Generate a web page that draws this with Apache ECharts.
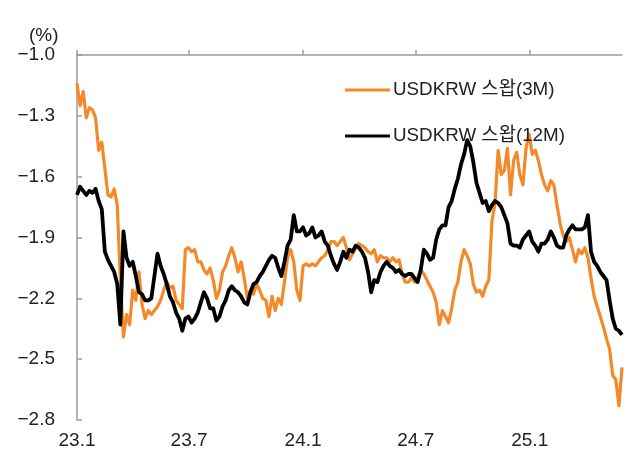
<!DOCTYPE html>
<html>
<head>
<meta charset="utf-8">
<script src="https://cdn.jsdelivr.net/npm/echarts@6/dist/echarts.min.js"></script>
<style>html,body{margin:0;padding:0;background:#fff;}#c{width:638px;height:455px;}</style>
</head>
<body>
<div id="c"></div>
<script>
// Sampling: one point every 5 calendar days starting 2023-01-01 (day 0)
const START_DATE = '2023-01-01';
const STEP_DAYS = 5;
const seriesNames = ['USDKRW 스왑(3M)', 'USDKRW 스왑(12M)'];
const swap3M = [
-1.14,-1.25,-1.18,-1.31,-1.26,-1.27,-1.31,-1.47,-1.43,-1.56,
-1.69,-1.70,-1.66,-1.74,-2.11,-2.39,-2.28,-2.33,-2.16,-2.21,
-2.07,-2.23,-2.30,-2.26,-2.28,-2.26,-2.24,-2.21,-2.16,-2.12,
-2.15,-2.14,-2.21,-2.23,-2.25,-1.96,-1.95,-1.97,-1.96,-2.02,
-2.02,-2.06,-2.08,-2.05,-2.11,-2.20,-2.16,-2.07,-2.04,-1.99,
-1.95,-2.00,-2.07,-2.02,-2.10,-2.20,-2.16,-2.18,-2.13,-2.16,
-2.20,-2.21,-2.29,-2.19,-2.26,-2.20,-2.23,-2.12,-2.00,-1.96,
-2.02,-2.16,-2.21,-2.04,-2.03,-2.04,-2.03,-2.04,-2.02,-2.00,
-1.99,-1.96,-1.92,-1.92,-1.94,-1.92,-1.90,-1.95,-2.01,-1.98,
-1.95,-1.93,-1.94,-1.95,-1.97,-1.98,-1.96,-2.02,-1.99,-2.00,
-2.00,-2.02,-2.00,-2.02,-2.01,-2.08,-2.12,-2.12,-2.10,-2.12,
-2.10,-2.06,-2.08,-2.11,-2.14,-2.17,-2.22,-2.33,-2.26,-2.29,
-2.32,-2.25,-2.16,-2.12,-2.02,-1.96,-1.99,-2.03,-2.13,-2.17,
-2.16,-2.19,-2.14,-2.11,-1.82,-1.73,-1.47,-1.59,-1.57,-1.46,
-1.69,-1.52,-1.48,-1.59,-1.64,-1.46,-1.39,-1.49,-1.47,-1.52,
-1.59,-1.64,-1.67,-1.62,-1.64,-1.74,-1.83,-1.89,-1.92,-1.90,
-1.96,-2.02,-1.96,-1.98,-1.95,-2.00,-2.10,-2.19,-2.24,-2.29,
-2.34,-2.40,-2.45,-2.58,-2.60,-2.73,-2.54
];
const swap12M = [
-1.69,-1.65,-1.67,-1.69,-1.67,-1.68,-1.66,-1.72,-1.76,-1.97,
-2.01,-2.04,-2.07,-2.13,-2.33,-1.87,-2.00,-2.04,-2.02,-2.09,
-2.17,-2.18,-2.21,-2.21,-2.20,-2.09,-1.98,-2.04,-2.08,-2.13,
-2.19,-2.22,-2.27,-2.30,-2.36,-2.30,-2.29,-2.32,-2.30,-2.27,
-2.22,-2.17,-2.20,-2.25,-2.25,-2.31,-2.29,-2.24,-2.21,-2.16,
-2.14,-2.16,-2.17,-2.19,-2.22,-2.23,-2.17,-2.13,-2.12,-2.09,
-2.07,-2.04,-2.01,-1.99,-2.00,-2.05,-2.09,-2.02,-1.94,-1.91,
-1.79,-1.87,-1.87,-1.85,-1.89,-1.88,-1.85,-1.90,-1.89,-1.87,
-1.92,-1.94,-1.99,-2.03,-2.06,-2.02,-1.97,-2.00,-1.96,-1.97,
-1.94,-1.95,-1.97,-2.00,-2.07,-2.17,-2.11,-2.12,-2.07,-2.04,
-2.02,-2.04,-2.05,-2.07,-2.06,-2.08,-2.09,-2.08,-2.08,-2.10,
-2.12,-2.06,-1.96,-1.98,-2.01,-2.00,-1.91,-1.86,-1.84,-1.84,
-1.75,-1.72,-1.66,-1.61,-1.54,-1.49,-1.42,-1.45,-1.53,-1.63,
-1.68,-1.73,-1.72,-1.77,-1.74,-1.72,-1.73,-1.75,-1.79,-1.83,
-1.93,-1.94,-1.94,-1.95,-1.91,-1.89,-1.87,-1.92,-1.94,-1.97,
-1.93,-1.93,-1.91,-1.87,-1.90,-1.94,-1.95,-1.95,-1.89,-1.86,
-1.84,-1.86,-1.86,-1.86,-1.85,-1.79,-1.97,-2.02,-2.04,-2.07,
-2.09,-2.11,-2.21,-2.30,-2.35,-2.36,-2.38
];
// x tick positions (days since 2023-01-01) and their labels
const tickDays = [0, 181, 365, 547, 731];
const tickLabels = ['23.1', '23.7', '24.1', '24.7', '25.1'];

const toPairs = arr => arr.map((v, i) => [i * STEP_DAYS, v]);
const lastDay = (swap3M.length - 1) * STEP_DAYS;
const FONT = "'Liberation Sans', Arial, 'Noto Sans CJK KR', sans-serif";
const AXIS_COLOR = '#9a9a9a';
const ORANGE = '#f4892a';

const chart = echarts.init(document.getElementById('c'), null, {renderer: 'canvas'});
chart.setOption({
  animation: false,
  backgroundColor: '#fff',
  grid: {left: 77, right: 638 - 622, top: 55, bottom: 35, containLabel: false},
  legend: {
    orient: 'vertical', left: 345, top: 80, padding: 0,
    icon: 'rect', itemWidth: 45, itemHeight: 3, itemGap: 26,
    textStyle: {fontFamily: FONT, fontSize: 18.8, color: '#222', lineHeight: 20, padding: [0, 0, 0, -2]},
    data: seriesNames
  },
  graphic: [{
    type: 'text', left: 29, top: 26,
    style: {text: '(%)', font: '19px ' + FONT, fill: '#222'}
  }],
  xAxis: [{
    type: 'value', position: 'bottom', min: 0, max: lastDay,
    axisLine: {show: false}, axisTick: {show: false}, splitLine: {show: false},
    axisLabel: {
      customValues: tickDays, margin: 11,
      fontFamily: FONT, fontSize: 19, color: '#222',
      formatter: v => { const k = tickDays.indexOf(v); return k >= 0 ? tickLabels[k] : ''; }
    }
  }, {
    type: 'value', position: 'top', min: 0, max: lastDay,
    axisLine: {show: true, onZero: false, lineStyle: {color: AXIS_COLOR, width: 1.5}},
    axisTick: {show: true, customValues: tickDays, length: 5, inside: false, lineStyle: {color: AXIS_COLOR, width: 1.5}},
    axisLabel: {show: false}, splitLine: {show: false}
  }],
  yAxis: {
    type: 'value', min: -2.8, max: -1.0, interval: 0.3,
    axisLine: {show: true, onZero: false, lineStyle: {color: AXIS_COLOR, width: 1.5}},
    axisTick: {show: true, inside: true, length: 5, lineStyle: {color: AXIS_COLOR, width: 1.5}},
    splitLine: {show: false},
    axisLabel: {
      margin: 22, fontFamily: FONT, fontSize: 19, color: '#222',
      formatter: v => (v < 0 ? '\u2212' : '') + Math.abs(v).toFixed(1)
    }
  },
  series: [{
    name: seriesNames[0], type: 'line', xAxisIndex: 0, data: toPairs(swap3M),
    showSymbol: false, symbol: 'none', color: ORANGE,
    itemStyle: {color: ORANGE},
    lineStyle: {width: 3.2, color: ORANGE, join: 'round'}, z: 2
  }, {
    name: seriesNames[1], type: 'line', xAxisIndex: 0, data: toPairs(swap12M),
    showSymbol: false, symbol: 'none', color: '#000',
    itemStyle: {color: '#000'},
    lineStyle: {width: 3.8, color: '#000', join: 'round'}, z: 3
  }]
});
</script>
</body>
</html>
